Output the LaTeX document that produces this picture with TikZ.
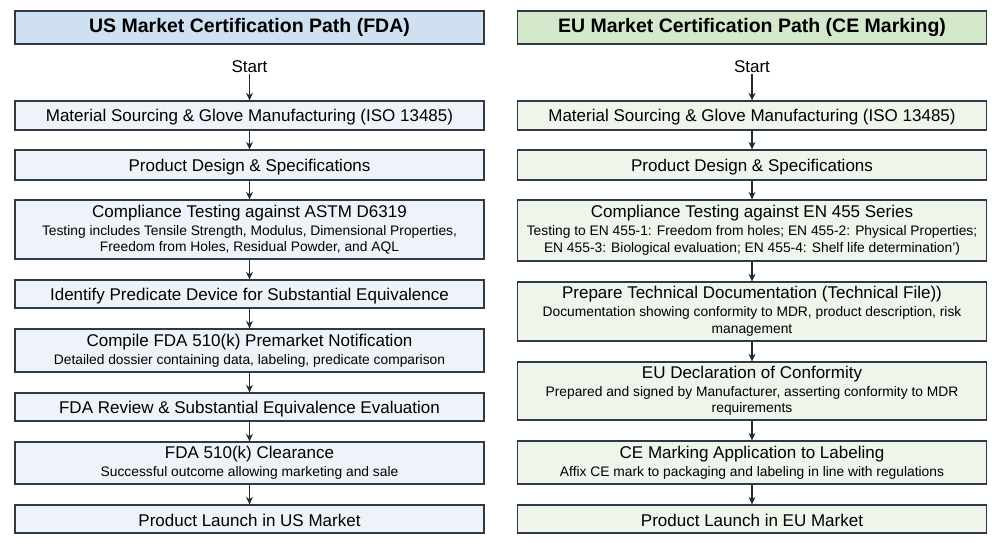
\documentclass[tikz,border=0pt]{standalone}
\usepackage{fontspec}
\setmainfont{Liberation Sans}
\usetikzlibrary{arrows.meta}
\definecolor{bordc}{HTML}{2F3A44}
\definecolor{ustitle}{HTML}{CFE0F1}
\definecolor{eutitle}{HTML}{D4E8CC}
\definecolor{usbox}{HTML}{EEF3FA}
\definecolor{eubox}{HTML}{EEF5EA}
\definecolor{arrc}{HTML}{1F2A33}
\newcommand{\mainf}{\fontsize{17}{20}\selectfont}
\newcommand{\subf}{\fontsize{13.8}{16}\selectfont}
\tikzset{
  basebox/.style={draw=bordc, line width=1.3pt, minimum width=469pt, inner sep=0pt, align=center, text=black},
  titlebox/.style={basebox, minimum height=33pt, font=\bfseries\fontsize{19.5}{22}\selectfont},
  usstep/.style={basebox, fill=usbox, minimum height=#1, execute at begin node={\rule{0pt}{16pt}}},
  eustep/.style={basebox, fill=eubox, minimum height=#1, execute at begin node={\rule{0pt}{16pt}}},
  flow/.style={draw=arrc, line width=1.2pt, -{Stealth[length=7.5pt,width=7pt]}},
  starttxt/.style={inner sep=1pt, font=\mainf}
}
\begin{document}
\begin{tikzpicture}[x=1pt,y=-1pt]
\useasboundingbox (0,0) rectangle (1000,545);
% US column
\node[titlebox, fill=ustitle] (ust) at (249.5,27.5) {US Market Certification Path (FDA)};
\node[starttxt] (uss) at (249.5,67) {Start};
\node[usstep=29pt, font=\mainf] (u1) at (249.5,115.5) {Material Sourcing \& Glove Manufacturing (ISO 13485)};
\node[usstep=30pt, font=\mainf] (u2) at (249.5,165) {Product Design \& Specifications};
\node[usstep=59pt, font=\mainf] (u3) at (249.5,229.5) {Compliance Testing against ASTM D6319\\[-2pt]\subf Testing includes Tensile Strength, Modulus, Dimensional Properties,\\[-3.5pt]\subf Freedom from Holes, Residual Powder, and AQL};
\node[usstep=28pt, font=\mainf] (u4) at (249.5,294) {Identify Predicate Device for Substantial Equivalence};
\node[usstep=43pt, font=\mainf] (u5) at (249.5,350.5) {Compile FDA 510(k) Premarket Notification\\[-2pt]\subf Detailed dossier containing data, labeling, predicate comparison};
\node[usstep=28pt, font=\mainf] (u6) at (249.5,407) {FDA Review \& Substantial Equivalence Evaluation};
\node[usstep=42pt, font=\mainf] (u7) at (249.5,463) {FDA 510(k) Clearance\\[-2pt]\subf Successful outcome allowing marketing and sale};
\node[usstep=28pt, font=\mainf] (u8) at (249.5,519) {Product Launch in US Market};
\draw[flow] (uss) -- (u1);
\draw[flow] (u1) -- (u2);
\draw[flow] (u2) -- (u3);
\draw[flow] (u3) -- (u4);
\draw[flow] (u4) -- (u5);
\draw[flow] (u5) -- (u6);
\draw[flow] (u6) -- (u7);
\draw[flow] (u7) -- (u8);
% EU column
\node[titlebox, fill=eutitle] (eut) at (752,27.5) {EU Market Certification Path (CE Marking)};
\node[starttxt] (eus) at (752,67) {Start};
\node[eustep=29pt, font=\mainf] (e1) at (752,115.5) {Material Sourcing \& Glove Manufacturing (ISO 13485)};
\node[eustep=30pt, font=\mainf] (e2) at (752,165) {Product Design \& Specifications};
\node[eustep=61pt, font=\mainf] (e3) at (752,230.5) {Compliance Testing against EN 455 Series\\[-2pt]\subf Testing to EN 455-1: Freedom from holes; EN 455-2: Physical Properties;\\[-3.5pt]\subf EN 455-3: Biological evaluation; EN 455-4: Shelf life determination')};
\node[eustep=59pt, font=\mainf] (e4) at (752,311.5) {Prepare Technical Documentation (Technical File))\\[-2pt]\subf Documentation showing conformity to MDR, product description, risk\\[-3.5pt]\subf management};
\node[eustep=58pt, font=\mainf] (e5) at (752,391) {EU Declaration of Conformity\\[-2pt]\subf Prepared and signed by Manufacturer, asserting conformity to MDR\\[-3.5pt]\subf requirements};
\node[eustep=43pt, font=\mainf] (e6) at (752,462.5) {CE Marking Application to Labeling\\[-2pt]\subf Affix CE mark to packaging and labeling in line with regulations};
\node[eustep=28pt, font=\mainf] (e7) at (752,519) {Product Launch in EU Market};
\draw[flow] (eus) -- (e1);
\draw[flow] (e1) -- (e2);
\draw[flow] (e2) -- (e3);
\draw[flow] (e3) -- (e4);
\draw[flow] (e4) -- (e5);
\draw[flow] (e5) -- (e6);
\draw[flow] (e6) -- (e7);
\end{tikzpicture}
\end{document}
